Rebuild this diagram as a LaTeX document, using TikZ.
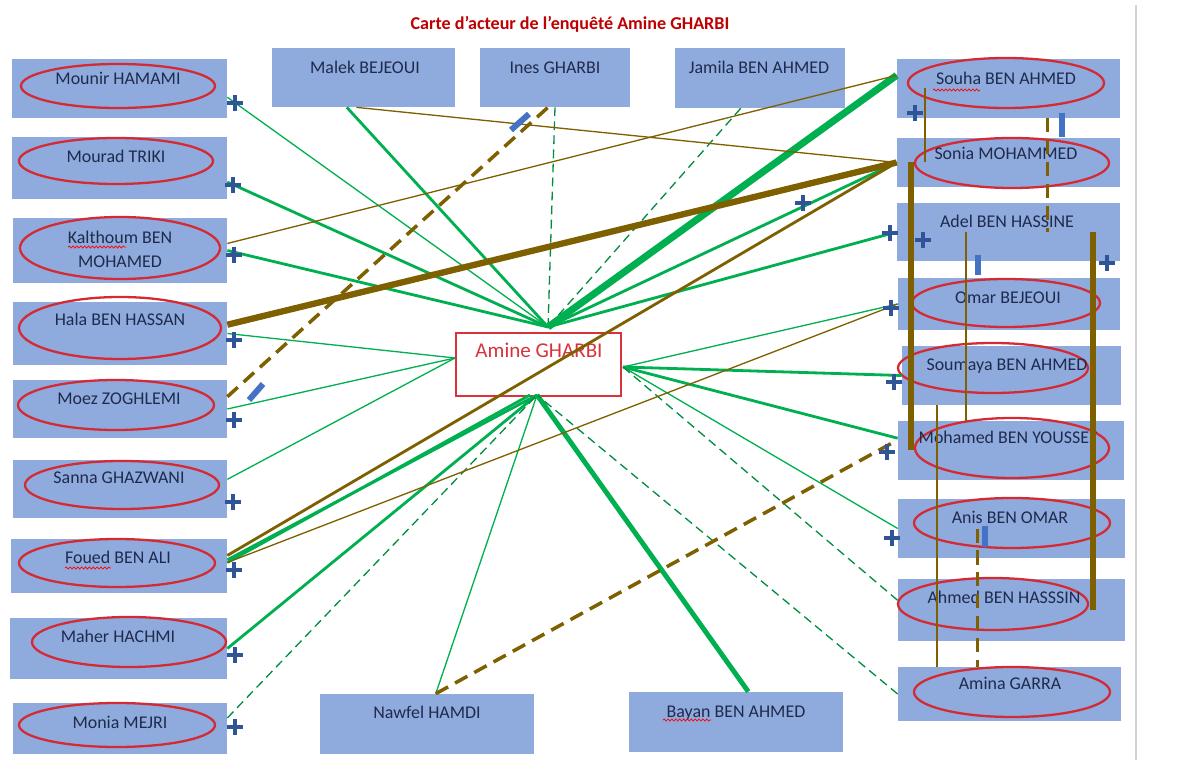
\documentclass[tikz,border=0pt]{standalone}
\usepackage{fontspec}
\setmainfont{Carlito}
\usetikzlibrary{fit,decorations.pathmorphing}
\definecolor{boxblue}{HTML}{8FAADC}
\definecolor{ovalred}{HTML}{D42A34}
\definecolor{namecol}{HTML}{1F2B4D}
\definecolor{lgreen}{HTML}{00B050}
\definecolor{lbrown}{HTML}{7F6000}
\definecolor{plusblue}{HTML}{2F5597}
\definecolor{minusblue}{HTML}{4472C4}
\definecolor{titlered}{HTML}{C00000}
\definecolor{aminered}{HTML}{D9323A}

\begin{document}
\begin{tikzpicture}[x=0.02cm, y=-0.02cm,
	pbox/.style={fill=boxblue, inner sep=0pt},
	pname/.style={text=namecol, font=\fontsize{10.2}{14.2}\selectfont, inner sep=0pt, anchor=base, align=center},
	oval/.style={draw=ovalred, line width=1.3pt},
	gthin/.style={draw=lgreen, line width=0.75pt},
	gmed/.style={draw=lgreen, line width=1.6pt},
	gthick/.style={draw=lgreen, line width=4pt},
	gdash/.style={draw=lgreen!80!black, line width=0.75pt, dash pattern=on 5pt off 3pt},
	bthin/.style={draw=lbrown, line width=0.75pt},
	bmed/.style={draw=lbrown, line width=1.6pt},
	bthick/.style={draw=lbrown, line width=3.6pt},
	bdash/.style={draw=lbrown, line width=2pt, dash pattern=on 8pt off 4.5pt},
	plusmark/.style={draw=plusblue, line width=2pt},
	minusbar/.style={draw=minusblue, line width=3.4pt},
	squig/.style={draw=red, line width=0.4pt, decorate, decoration={snake, amplitude=0.6pt, segment length=2.2pt}}]
	\useasboundingbox (0,0) rectangle (1198,760);
	\draw[gray!35, line width=0.8pt] (1136,5) -- (1136,760);
	\node[text=titlered, font=\bfseries\fontsize{10.3}{12}\selectfont, anchor=base, inner sep=0pt] (titre) at (570,30) {Carte d’acteur de l’enquêté Amine GHARBI};
	% boxes on the left
	\node[pbox, fit={(12,59) (227,118)}] (mounir) {};
	\node[pbox, fit={(12,137) (227,199)}] (mourad) {};
	\node[pbox, fit={(13,218) (227,283)}] (kalthoum) {};
	\node[pbox, fit={(13,302) (227,365)}] (hala) {};
	\node[pbox, fit={(13,380) (227,438)}] (moez) {};
	\node[pbox, fit={(13,460) (227,518)}] (sanna) {};
	\node[pbox, fit={(11,539) (227,593)}] (foued) {};
	\node[pbox, fit={(10,618) (227,679)}] (maher) {};
	\node[pbox, fit={(13,703) (227,754)}] (monia) {};
	% boxes at the top and bottom
	\node[pbox, fit={(272,48) (455,107)}] (malek) {};
	\node[pbox, fit={(480,48) (630,107)}] (ines) {};
	\node[pbox, fit={(675,48) (845,108)}] (jamila) {};
	\node[pbox, fit={(320,694) (534,754)}] (nawfel) {};
	\node[pbox, fit={(629,692) (843,752)}] (bayan) {};
	% boxes on the right
	\node[pbox, fit={(897,59) (1120,118)}] (souha) {};
	\node[pbox, fit={(897,138) (1120,187)}] (sonia) {};
	\node[pbox, fit={(897,203) (1120,261)}] (adel) {};
	\node[pbox, fit={(898,278) (1120,330)}] (omar) {};
	\node[pbox, fit={(902,346) (1121,405)}] (soumaya) {};
	\node[pbox, fit={(898,421) (1124,480)}] (mohamed) {};
	\node[pbox, fit={(898,499) (1125,558)}] (anis) {};
	\node[pbox, fit={(898,579) (1125,641)}] (ahmed) {};
	\node[pbox, fit={(898,667) (1121,721)}] (amina) {};
	% the interviewee
	\node[draw=aminered, line width=0.8pt, fill=white, inner sep=0pt, fit={(456,333) (621,396)}] (amine) {};
	\node[text=aminered, font=\fontsize{12}{14}\selectfont, anchor=base, inner sep=0pt] (amineT) at (539,358) {Amine GHARBI};
	% ovals
	\draw[oval] (118,86) ellipse [x radius=97, y radius=22];
	\draw[oval] (116,161) ellipse [x radius=97, y radius=23];
	\draw[oval] (120,248) ellipse [x radius=100, y radius=31];
	\draw[oval] (120,328) ellipse [x radius=101, y radius=31];
	\draw[oval] (116,405) ellipse [x radius=98, y radius=25];
	\draw[oval] (122,485) ellipse [x radius=97, y radius=24];
	\draw[oval] (117,563) ellipse [x radius=98, y radius=24];
	\draw[oval] (129,642) ellipse [x radius=97, y radius=25];
	\draw[oval] (117,725) ellipse [x radius=98, y radius=22];
	\draw[oval] (1006,83) ellipse [x radius=98, y radius=25];
	\draw[oval] (1012,163) ellipse [x radius=97, y radius=25];
	\draw[oval] (1006,303) ellipse [x radius=94, y radius=24];
	\draw[oval] (993,368) ellipse [x radius=95, y radius=25];
	\draw[oval] (1012,448) ellipse [x radius=97, y radius=30];
	\draw[oval] (1012,523) ellipse [x radius=98, y radius=25];
	\draw[oval] (993,604) ellipse [x radius=95, y radius=26];
	\draw[oval] (1012,692) ellipse [x radius=98, y radius=25];
	% names
	\node[pname] (mounirT) at (118,85) {Mounir HAMAMI};
	\node[pname] (mouradT) at (116,163) {Mourad TRIKI};
	\node[pname] (kalthoumT) at (120,268) {Kalthoum BEN\\MOHAMED};
	\node[pname] (halaT) at (120,326) {Hala BEN HASSAN};
	\node[pname] (moezT) at (119,405) {Moez ZOGHLEMI};
	\node[pname] (sannaT) at (119,483) {Sanna GHAZWANI};
	\node[pname] (fouedT) at (118,563) {Foued BEN ALI};
	\node[pname] (maherT) at (118,642) {Maher HACHMI};
	\node[pname] (moniaT) at (120,728) {Monia MEJRI};
	\node[pname] (malekT) at (365,74) {Malek BEJEOUI};
	\node[pname] (inesT) at (555,74) {Ines GHARBI};
	\node[pname] (jamilaT) at (759,74) {Jamila BEN AHMED};
	\node[pname] (nawfelT) at (427,718) {Nawfel HAMDI};
	\node[pname] (bayanT) at (736,717) {Bayan BEN AHMED};
	\node[pname] (souhaT) at (1006,85) {Souha BEN AHMED};
	\node[pname] (soniaT) at (1006,160) {Sonia MOHAMMED};
	\node[pname] (adelT) at (1007,228) {Adel BEN HASSINE};
	\node[pname] (omarT) at (1008,304) {Omar BEJEOUI};
	\node[pname] (soumayaT) at (1007,371) {Soumaya BEN AHMED};
	\node[pname] (mohamedT) at (1008,443) {Mohamed BEN YOUSSEF};
	\node[pname] (anisT) at (1010,523) {Anis BEN OMAR};
	\node[pname] (ahmedT) at (1004,603) {Ahmed BEN HASSSIN};
	\node[pname] (aminaT) at (1010,689) {Amina GARRA};
	\draw[squig] (933,90) -- (980,90);
	\draw[squig] (68,247) -- (126,247);
	\draw[squig] (65,568) -- (111,568);
	\draw[squig] (663,720) -- (711,720);
	% where the lines meet the interviewee
	\coordinate (amT) at (548,327);
	\coordinate (amL) at (455,358);
	\coordinate (amR) at (623,367);
	\coordinate (amB) at (537,395);
	% green links
	\draw[gthin] ([yshift=-5pt]mounir.east) -- (amT);
	\draw[gmed] ([yshift=-8pt]mourad.east) -- (amT);
	\draw[gmed] (kalthoum.east) -- (amT);
	\draw[gmed] ([xshift=-9.5pt]malek.south) -- (amT);
	\draw[gdash] (ines.south) -- (amT);
	\draw[gdash] ([xshift=-11pt]jamila.south) -- (amT);
	\draw[gthick] ([yshift=7.5pt]souha.west) -- (amT);
	\draw[gmed] (sonia.west) -- (amT);
	\draw[gmed] (adel.west) -- (amT);
	\draw[gthin] (hala.east) -- (amL);
	\draw[gthin] (moez.east) -- (amL);
	\draw[gthin] ([yshift=5.5pt]sanna.east) -- (amL);
	\draw[gthin] (omar.west) -- (amR);
	\draw[gmed] (soumaya.west) -- (amR);
	\draw[gmed] ([yshift=7pt]mohamed.west) -- (amR);
	\draw[gthin] (anis.west) -- (amR);
	\draw[gdash] ([yshift=5.5pt]ahmed.west) -- (amR);
	\draw[gmed] ([yshift=3.5pt]foued.east) -- (amB);
	\draw[gmed] ([yshift=2pt]foued.east) -- ([xshift=-4pt]amB);
	\draw[gmed] (maher.east) -- (amB);
	\draw[gdash] ([yshift=6pt]monia.east) -- (amB);
	\draw[gthin] ([xshift=5pt]nawfel.north) -- (amB);
	\draw[draw=lgreen, line width=2.8pt] ([xshift=7pt]bayan.north) -- (amB);
	\draw[gdash] (amina.west) -- (amB);
	% brown links
	\draw[bthin] ([xshift=-4pt]malek.south) -- (sonia.west);
	\draw[bthin] ([yshift=4pt]kalthoum.east) -- ([yshift=7.5pt]souha.west);
	\draw[bthick] ([yshift=5pt]hala.east) -- (sonia.west);
	\draw[bdash] ([yshift=7pt]moez.east) -- ([xshift=-4pt]ines.south);
	\draw[bmed] ([yshift=6pt]foued.east) -- (sonia.west);
	\draw[bthin] ([yshift=2pt]foued.east) -- (omar.west);
	\draw[bdash] ([xshift=5pt]nawfel.north) -- ([yshift=6pt]mohamed.west);
	% brown links inside the right column
	\draw[bthin] (925,0 |- souha.center) -- (925,0 |- sonia.center);
	\draw[bdash, line width=1.7pt] (1047,0 |- souha.south) -- (1047,0 |- adel.center);
	\draw[bthick, line width=3.4pt] (911,0 |- sonia.center) -- (911,0 |- mohamed.center);
	\draw[bthin] (966,0 |- adel.center) -- (966,0 |- mohamed.north);
	\draw[bthick, line width=3.4pt] (1093,0 |- adel.center) -- (1093,0 |- ahmed.center);
	\draw[bmed, line width=1.4pt] (937,0 |- soumaya.south) -- (937,0 |- amina.north);
	\draw[bdash, line width=1.7pt] (977,0 |- anis.center) -- (977,0 |- amina.north);
	% signs
	\foreach \x/\y in {235/103, 233/185, 234/255, 234/340, 234/420, 233/502, 234/570, 235/655, 235/727, 803/203, 915/113, 890/233, 923/240, 1107/263, 891/308, 894/382, 887/452, 892/538}
		\draw[plusmark] (\x,\y) +(-8,0) -- +(8,0) (\x,\y) +(0,-8) -- +(0,8);
	\draw[minusbar] (511,130) -- (529,114);
	\draw[minusbar] (249,400) -- (263,384);
	\draw[minusbar] (1062,113) -- (1062,137);
	\draw[minusbar] (978,255) -- (978,275);
	\draw[minusbar] (985,526) -- (985,547);
\end{tikzpicture}
\end{document}
